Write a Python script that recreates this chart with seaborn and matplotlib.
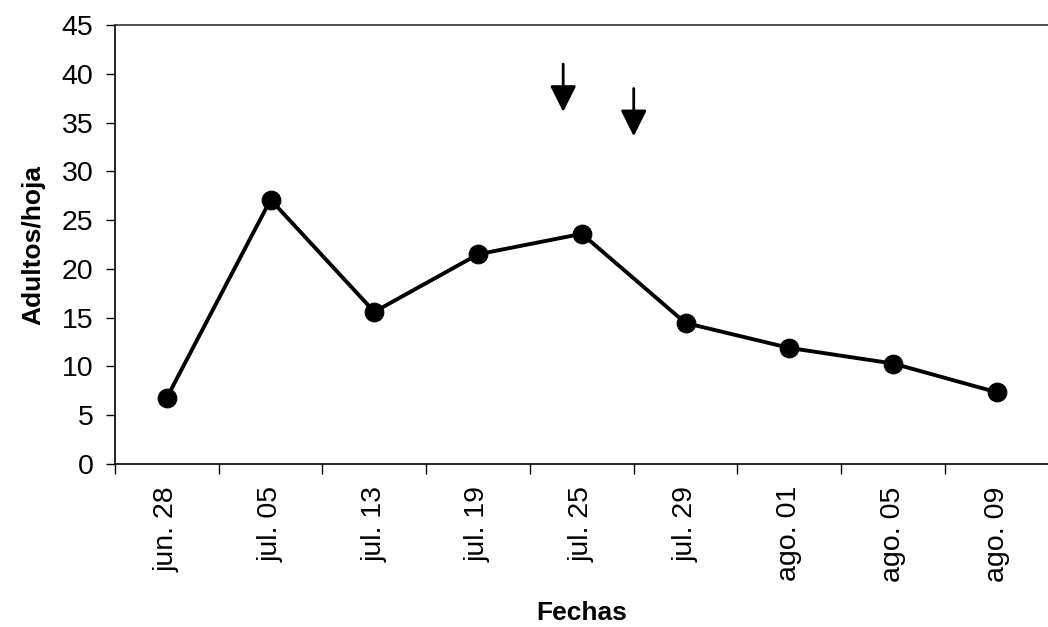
import pandas as pd
import matplotlib
matplotlib.use("Agg")
import matplotlib.pyplot as plt
import seaborn as sns
from matplotlib.ticker import FixedLocator

# datos
fechas = ["jun. 28", "jul. 05", "jul. 13", "jul. 19", "jul. 25",
          "jul. 29", "ago. 01", "ago. 05", "ago. 09"]
adultos = [6.8, 27.1, 15.6, 21.5, 23.6, 14.45, 11.9, 10.3, 7.35]

# flechas (aplicaciones)
flecha_x = [3.82, 4.50]
flecha_inicio = [41.0, 38.5]
flecha_punta = [36.1, 33.6]

sns.set_style("white")
plt.rcParams['font.family'] = ['Liberation Sans', 'DejaVu Sans']
plt.rcParams['text.color'] = 'black'
plt.rcParams['xtick.color'] = 'black'
plt.rcParams['ytick.color'] = 'black'
plt.rcParams['axes.labelcolor'] = 'black'

df = pd.DataFrame({"fecha": fechas, "adultos": adultos})

fig = plt.figure(figsize=(10.48, 6.27), dpi=100)
ax = fig.add_axes([0.1097, 0.26, 0.891, 0.700])

sns.lineplot(data=df, x="fecha", y="adultos", sort=False, ax=ax,
             color="black", linewidth=2.8, marker="o", markersize=13.5,
             markeredgecolor="black", markerfacecolor="black")

for x, y0, y1 in zip(flecha_x, flecha_inicio, flecha_punta):
    ax.annotate("", xy=(x, y1), xytext=(x, y0),
                arrowprops=dict(arrowstyle="-|>,head_length=0.8,head_width=0.4",
                                color="black", lw=2, shrinkA=0, shrinkB=0,
                                mutation_scale=20))

ax.set_xlim(-0.5, 8.5)
ax.set_ylim(0, 45)
ax.set_yticks(range(0, 46, 5))
ax.tick_params(axis="y", which="major", direction="out", length=6.5, width=1,
               labelsize=20.5, pad=9, left=True)
ax.xaxis.set_minor_locator(FixedLocator([i - 0.5 for i in range(len(fechas) + 1)]))
ax.tick_params(axis="x", which="minor", direction="out", length=7, width=1,
               bottom=True)
ax.tick_params(axis="x", which="major", length=0, labelsize=20.5, pad=16,
               labelrotation=90)

ax.set_xlabel("Fechas", fontsize=19, fontweight="bold", labelpad=14)
ax.set_ylabel("Adultos/hoja", fontsize=19, fontweight="bold", labelpad=12)

for side in ["left", "bottom"]:
    ax.spines[side].set_color("black")
    ax.spines[side].set_linewidth(1.2)
ax.spines["top"].set_color("#333333")
ax.spines["top"].set_linewidth(1.2)
ax.spines["right"].set_visible(False)

fig.savefig("out.png", dpi=100)
